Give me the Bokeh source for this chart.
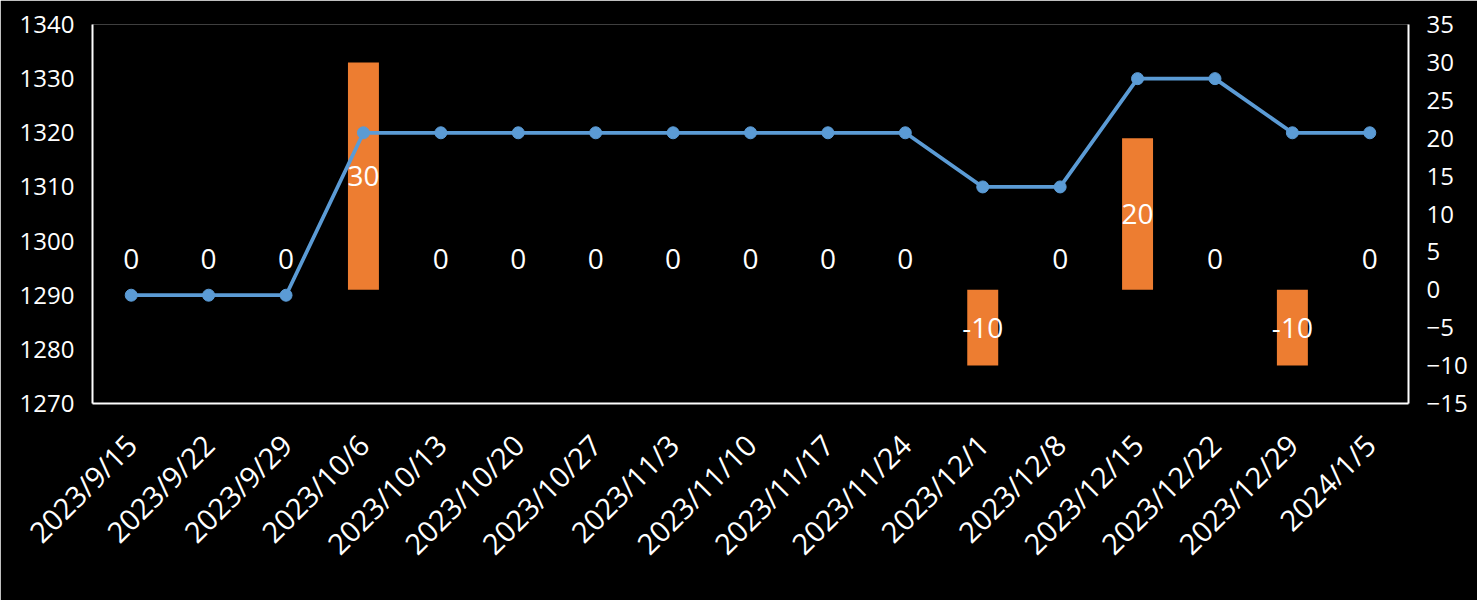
import math
from bokeh.plotting import figure
from bokeh.models import ColumnDataSource, Range1d, LinearAxis, FactorRange, FixedTicker
from bokeh.core.properties import value
from bokeh.embed import file_html
from bokeh.resources import INLINE

dates = ["2023/9/15", "2023/9/22", "2023/9/29", "2023/10/6", "2023/10/13", "2023/10/20",
         "2023/10/27", "2023/11/3", "2023/11/10", "2023/11/17", "2023/11/24", "2023/12/1",
         "2023/12/8", "2023/12/15", "2023/12/22", "2023/12/29", "2024/1/5"]
level = [1290, 1290, 1290, 1320, 1320, 1320, 1320, 1320, 1320, 1320, 1320, 1310,
         1310, 1330, 1330, 1320, 1320]
change = [0, 0, 0, 30, 0, 0, 0, 0, 0, 0, 0, -10, 0, 20, 0, -10, 0]
left_ticks = [1270, 1280, 1290, 1300, 1310, 1320, 1330, 1340]
right_ticks = [-15, -10, -5, 0, 5, 10, 15, 20, 25, 30, 35]

FONT = "Open Sans"
WHITE = "#FFFFFF"
BLUE = "#5B9BD5"
ORANGE = "#ED7D31"

p = figure(width=1477, height=600, x_range=FactorRange(*dates, range_padding=0),
           y_range=Range1d(1270, 1340), output_backend="svg", toolbar_location=None,
           background_fill_color="black", border_fill_color="black",
           min_border_left=92, min_border_right=69, min_border_top=24, min_border_bottom=197)
p.outline_line_color = None
p.xgrid.grid_line_color = None
p.ygrid.grid_line_color = None
p.extra_y_ranges = {"right": Range1d(-15, 35)}

src = ColumnDataSource(dict(
    d=dates, level=level, change=change,
    lab=[str(v) for v in change],
    laby=[v / 2 for v in change],
    offy=[-31 if v == 0 else 0 for v in change],
))

p.vbar(x="d", top="change", bottom=0, width=0.4, fill_color=ORANGE, line_color=None,
       source=src, y_range_name="right")
p.line(x="d", y="level", line_color=BLUE, line_width=3.75, source=src)
p.scatter(x="d", y="level", size=12, fill_color=BLUE, line_color=BLUE, source=src)
p.text(x="d", y="laby", text="lab", y_offset="offy", source=src, y_range_name="right",
       text_font=value(FONT), text_font_size="28px", text_color=WHITE,
       text_align="center", text_baseline="middle")

def style(ax):
    ax.axis_line_color = WHITE
    ax.axis_line_width = 2
    ax.major_tick_line_color = None
    ax.minor_tick_line_color = None
    ax.major_tick_out = 0
    ax.major_tick_in = 0
    ax.major_label_text_color = WHITE
    ax.major_label_text_font = FONT
    ax.major_label_text_font_size = "24px"

style(p.yaxis[0])
p.yaxis[0].ticker = FixedTicker(ticks=left_ticks)
p.yaxis[0].major_label_standoff = 18

ra = LinearAxis(y_range_name="right", ticker=FixedTicker(ticks=right_ticks))
style(ra)
ra.major_label_standoff = 18
p.add_layout(ra, "right")

style(p.xaxis[0])
p.xaxis[0].major_label_orientation = math.pi / 4
p.xaxis[0].major_label_standoff = 36
p.xaxis[0].major_label_text_font_size = "29px"

open("out.html", "w").write(file_html(p, INLINE))
